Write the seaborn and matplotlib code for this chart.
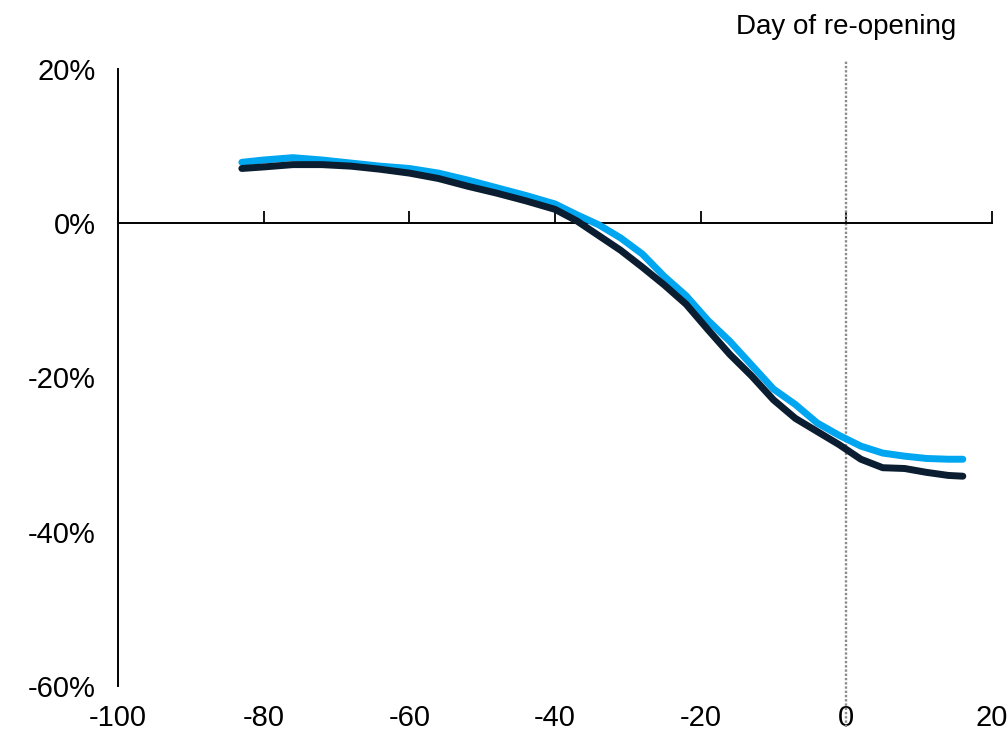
import pandas as pd
import matplotlib
matplotlib.use('Agg')
import matplotlib.pyplot as plt
import matplotlib.transforms as mtransforms
import seaborn as sns

# days relative to the re-opening date
DAYS = [-83, -80, -76, -72, -68, -64, -60, -56, -52, -48, -44, -40, -37, -34,
        -31, -28, -25, -22, -19, -16, -13, -10, -7, -4, -1, 2, 5, 8, 11, 14, 16]

# percent change
BLUE_VALUES = [7.9, 8.2, 8.5, 8.2, 7.8, 7.4, 7.1, 6.5, 5.6, 4.6, 3.6, 2.5, 1.1, -0.2,
               -1.9, -4.0, -6.9, -9.4, -12.6, -15.3, -18.4, -21.5, -23.5, -25.9, -27.5,
               -28.9, -29.8, -30.2, -30.5, -30.6, -30.6]
DARK_VALUES = [7.1, 7.3, 7.6, 7.6, 7.4, 7.0, 6.5, 5.8, 4.8, 3.9, 2.9, 1.8, 0.3, -1.6,
               -3.5, -5.7, -8.0, -10.5, -13.8, -17.0, -19.8, -22.9, -25.3, -27.0, -28.7,
               -30.6, -31.7, -31.8, -32.3, -32.7, -32.8]

SERIES_NAMES = ['Series A', 'Series B']
PALETTE = {'Series A': '#00A6EF', 'Series B': '#0B1D30'}

X_TICKS = [-100, -80, -60, -40, -20, 0, 20]
Y_TICKS = [-60, -40, -20, 0, 20]

df = pd.concat([
    pd.DataFrame({'day': DAYS, 'change': BLUE_VALUES, 'series': SERIES_NAMES[0]}),
    pd.DataFrame({'day': DAYS, 'change': DARK_VALUES, 'series': SERIES_NAMES[1]}),
])

sns.set_theme(style='white')
plt.rcParams['font.family'] = ['Liberation Sans', 'DejaVu Sans']
plt.rcParams['axes.unicode_minus'] = False

fig = plt.figure(figsize=(10.08, 7.30), dpi=100)
ax = fig.add_axes([0.1171, 0.0603, 0.867, 0.8452])

sns.lineplot(data=df, x='day', y='change', hue='series', hue_order=SERIES_NAMES,
             palette=PALETTE, linewidth=5, legend=False, ax=ax,
             solid_capstyle='round', zorder=3)

ax.set_xlim(-100, 20)
ax.set_ylim(-60, 20)
ax.set_xticks(X_TICKS)
ax.set_yticks(Y_TICKS)
ax.set_yticklabels([f'{v}%' for v in Y_TICKS])
ax.set_xlabel('')
ax.set_ylabel('')

# x axis line sits at zero, tick labels stay at the bottom
ax.spines['bottom'].set_position(('data', 0))
ax.spines['top'].set_visible(False)
ax.spines['right'].set_visible(False)
for side in ['left', 'bottom']:
    ax.spines[side].set_color('#000000')
    ax.spines[side].set_linewidth(1.4)

ax.tick_params(axis='x', bottom=True, direction='in', length=8.5, width=1.3,
               color='#000000', labelsize=21, pad=346, labelcolor='#000000')
ax.tick_params(axis='y', left=False, length=0, labelsize=21, pad=16,
               labelcolor='#000000')

# re-opening marker
ax.axvline(0, ymin=-0.066, ymax=1.0146, color='#8C8C8C', linestyle=(0, (1, 0.8)),
           linewidth=1.7, clip_on=False, zorder=1)
trans = mtransforms.blended_transform_factory(ax.transData, ax.transAxes)
ax.text(0, 1.068, 'Day of re-opening', transform=trans, ha='center', va='center',
        fontsize=20, color='#000000')

fig.savefig('out.png', dpi=100)
